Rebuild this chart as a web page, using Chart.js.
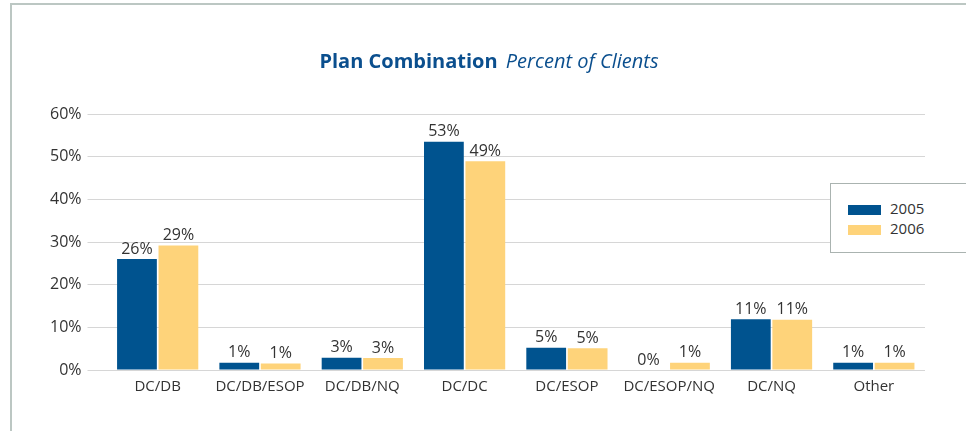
<!DOCTYPE html>
<html>
<head>
<meta charset="utf-8">
<script src="https://cdn.jsdelivr.net/npm/chart.js@4/dist/chart.umd.min.js"></script>
<style>
  html, body { margin: 0; padding: 0; background: #fff; }
  #wrap { position: relative; width: 966px; height: 431px; font-family: "Open Sans", sans-serif; }
  #frame { position: absolute; left: 10px; top: 3px; right: -4px; bottom: -4px;
           border-left: 2px solid #bcc7c3; border-top: 2px solid #bcc7c3; }
  #title { position: absolute; left: 0; width: 978px; top: 47px; text-align: center;
           color: #0b4f8e; font-size: 20px; white-space: nowrap; }
  #title b { font-weight: 700; }
  #title i { font-style: italic; font-weight: 400; margin-left: 3px; }
  #chart { position: absolute; left: 0; top: 0; }
  #legend { position: absolute; left: 830px; top: 183px; width: 140px; height: 70px;
            border: 1px solid #aab3b0; background: #fff; box-sizing: border-box; }
  .item { position: absolute; left: 17px; font-size: 15px; color: #333; }
  .item span { display: inline-block; width: 33px; height: 10px; margin-right: 9px; vertical-align: -1px; }
</style>
</head>
<body>
<div id="wrap">
  <div id="frame"></div>
  <canvas id="chart" width="966" height="431"></canvas>
  <div id="title"><b>Plan Combination</b> <i>Percent of Clients</i></div>
  <div id="legend"></div>
</div>
<script>
const categories = ['DC/DB', 'DC/DB/ESOP', 'DC/DB/NQ', 'DC/DC', 'DC/ESOP', 'DC/ESOP/NQ', 'DC/NQ', 'Other'];
const seriesNames = ['2005', '2006'];
const values2005 = [26.0, 1.7, 2.9, 53.5, 5.2, 0, 11.9, 1.7];
const values2006 = [29.2, 1.5, 2.8, 48.9, 5.1, 1.7, 11.8, 1.7];
const labels2005 = ['26%', '1%', '3%', '53%', '5%', '0%', '11%', '1%'];
const labels2006 = ['29%', '1%', '3%', '49%', '5%', '1%', '11%', '1%'];
const yTicks = [0, 10, 20, 30, 40, 50, 60];
const colors = ['#00538f', '#fed37a'];

// value labels above each bar
const barLabels = {
  id: 'barLabels',
  afterDatasetsDraw(chart) {
    const ctx = chart.ctx;
    const texts = [labels2005, labels2006];
    ctx.save();
    ctx.font = '16px "Open Sans", sans-serif';
    ctx.fillStyle = '#333';
    ctx.textAlign = 'center';
    ctx.textBaseline = 'bottom';
    chart.data.datasets.forEach((ds, i) => {
      chart.getDatasetMeta(i).data.forEach((bar, j) => {
        ctx.fillText(texts[i][j], bar.x, bar.y - 2);
      });
    });
    ctx.restore();
  }
};

new Chart(document.getElementById('chart'), {
  type: 'bar',
  data: {
    labels: categories,
    datasets: [
      { label: seriesNames[0], data: values2005, backgroundColor: colors[0] },
      { label: seriesNames[1], data: values2006, backgroundColor: colors[1] }
    ]
  },
  options: {
    responsive: false,
    animation: false,
    layout: { padding: { left: 44, right: 41, top: 114, bottom: 35 } },
    plugins: { legend: { display: false }, title: { display: false }, tooltip: { enabled: false } },
    datasets: { bar: { categoryPercentage: 0.81, barPercentage: 0.96 } },
    scales: {
      x: {
        grid: { display: false },
        border: { display: false },
        ticks: { color: '#333', font: { size: 15, family: '"Open Sans", sans-serif' }, padding: 0, maxRotation: 0, autoSkip: false }
      },
      y: {
        min: 0, max: 60,
        afterBuildTicks(axis) { axis.ticks = yTicks.map(v => ({ value: v })); },
        grid: { color: '#d6d6d6', lineWidth: 1, tickLength: 19, drawTicks: true },
        border: { display: false },
        ticks: { color: '#333', font: { size: 16, family: '"Open Sans", sans-serif' }, padding: 6,
                 callback: v => v + '%' }
      }
    }
  },
  plugins: [barLabels]
});

const legend = document.getElementById('legend');
seriesNames.forEach((name, i) => {
  const el = document.createElement('div');
  el.className = 'item';
  el.style.top = (14 + i * 20) + 'px';
  el.innerHTML = '<span style="background:' + colors[i] + '"></span>' + name;
  legend.appendChild(el);
});
</script>
</body>
</html>
